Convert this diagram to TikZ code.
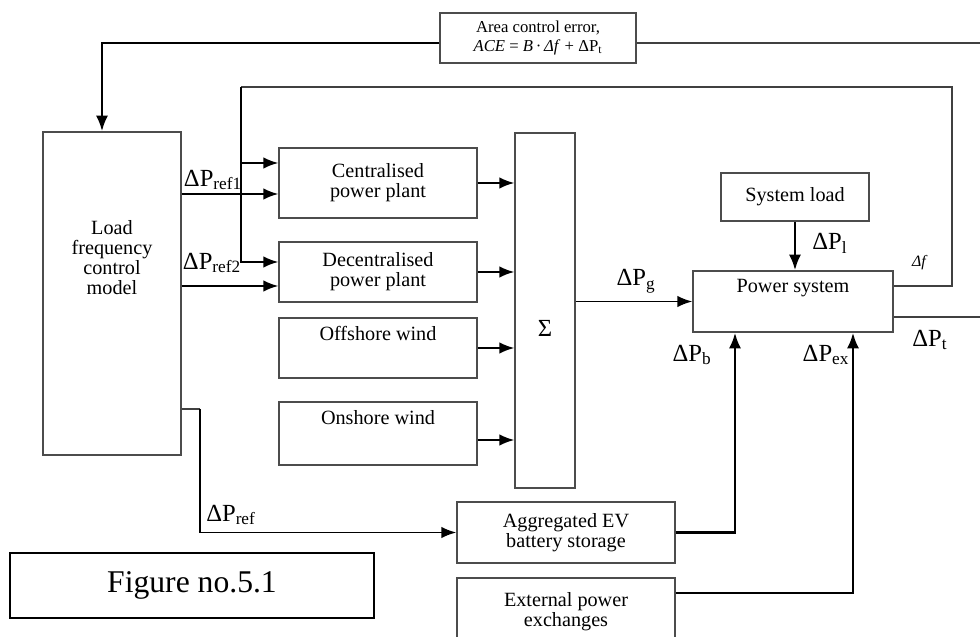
\documentclass[tikz,border=0pt]{standalone}
\usepackage{fontspec}
\setmainfont{Liberation Serif}
\usetikzlibrary{positioning,arrows.meta}

\begin{document}
\begin{tikzpicture}[
  box/.style={rectangle, draw=black!70, line width=0.7pt, align=center,
    inner sep=0pt, font=\fontsize{11.5}{11.5}\selectfont},
  plant/.style={box, minimum width=3.96cm, minimum height=1.2cm},
  arr/.style={-{Latex[length=8.5pt,width=6.5pt]}, line width=1.1pt},
  arrthick/.style={-{Latex[length=9pt,width=7pt]}, line width=1.6pt},
  wire/.style={draw=black!75, line width=0.7pt},
  lbl/.style={font=\fontsize{14}{16}\selectfont, inner sep=1pt}
]

\clip (0,0) rectangle (19.6,-12.74);

% Controller and area control error
\node[box, minimum width=2.76cm, minimum height=6.46cm] (lfc) at (2.24,-5.87) {};
\node[box, draw=none] (lfctxt) at (2.24,-5.15) {Load\\frequency\\control\\model};
\node[box, minimum width=3.92cm, minimum height=1.0cm,
  font=\fontsize{9.5}{11}\selectfont] (ace) at (10.76,-0.76)
  {Area control error,\\ \textit{ACE} = \textit{B}\,·\,\textit{Δf} + ΔP\textsubscript{t}};

% Generation units and summation
\node[plant, minimum height=1.4cm] (cen) at (7.56,-3.66) {Centralised\\power plant};
\node[plant] (dec) at (7.56,-5.44) {Decentralised\\power plant};
\node[plant, text depth=0.6cm] (off) at (7.56,-6.96) {Offshore wind};
\node[plant, minimum height=1.26cm, text depth=0.66cm] (on) at (7.56,-8.67) {Onshore wind};
\node[box, minimum width=1.2cm, minimum height=7.1cm, text height=1.03cm,
  font=\fontsize{14}{16}\selectfont] (sum) at (10.9,-6.21) {Σ};

% Power system side
\node[box, minimum width=4.0cm, minimum height=1.22cm, text depth=0.62cm] (pow) at (15.86,-6.03) {Power system};
\node[box, minimum width=2.96cm, minimum height=0.96cm] (load) at (15.9,-3.94) {System load};
\node[box, minimum width=4.36cm, minimum height=1.22cm] (ev) at (11.32,-10.65) {Aggregated EV\\battery storage};
\node[box, minimum width=4.36cm, minimum height=1.34cm] (ext) at (11.32,-12.23) {External power\\exchanges};

\node[draw=black, line width=1pt, minimum width=7.28cm, minimum height=1.3cm,
  font=\fontsize{18}{20}\selectfont] (fig) at (3.84,-11.71) {Figure no.5.1};

% ACE feedback
\coordinate (aceout) at (19.6,-0.86);
\draw[arrthick] ([yshift=-0.1cm]ace.west) -| ([xshift=-0.2cm]lfc.north);
\draw[wire, line width=1pt] ([yshift=-0.1cm]ace.east) -- (aceout);

% frequency deviation loop
\coordinate (fbr) at (19.04,-1.74);
\coordinate (fbl) at (4.82,-1.74);
\coordinate (fbc) at (4.82,-3.26);
\draw[wire] ([yshift=0.31cm]pow.east) -| (fbr) -- (fbl);
\draw[arr] (fbl) |- ([yshift=0.2cm]dec.west);
\draw[arr] (fbc) -- ([yshift=0.4cm]cen.west);

% reference signals
\coordinate (ref1) at ([yshift=-0.22cm]cen.west);
\coordinate (ref2) at ([yshift=-0.28cm]dec.west);
\coordinate (refd) at (4.0,-8.18);
\draw[arr] (lfc.east |- ref1) -- (ref1);
\draw[arr] (lfc.east |- ref2) -- (ref2);
\draw[wire] (lfc.east |- refd) -- (refd);
\draw[arr] (refd) |- (ev.west);

% plants into the sum
\coordinate (onout) at ([yshift=-0.13cm]on.east);
\draw[arr] (cen.east) -- (cen.east -| sum.west);
\draw[arr] (dec.east) -- (dec.east -| sum.west);
\draw[arr] (off.east) -- (off.east -| sum.west);
\draw[arr] (onout) -- (onout -| sum.west);

% power system inputs and outputs
\coordinate (ptout) at (19.6,-6.34);
\coordinate (pb) at ([xshift=-1.16cm]pow.south);
\coordinate (pex) at ([xshift=1.2cm]pow.south);
\draw[arr] (pow.west -| sum.east) -- (pow.west);
\draw[arrthick] (load.south) -- (load.south |- pow.north);
\draw[wire] ([yshift=-0.31cm]pow.east) -- (ptout);
\draw[arrthick] (ev.east) -| (pb);
\draw[arrthick] ([yshift=0.37cm]ext.east) -| (pex);

% signal labels
\node[lbl] (lref1) at (4.26,-3.6) {ΔP\textsubscript{ref1}};
\node[lbl] (lref2) at (4.24,-5.26) {ΔP\textsubscript{ref2}};
\node[lbl] (lpg) at (12.72,-5.62) {ΔP\textsubscript{g}};
\node[lbl] (lpl) at (16.6,-4.86) {ΔP\textsubscript{l}};
\node[lbl, font=\fontsize{9}{10}\selectfont\itshape] (ldf) at (18.38,-5.26) {Δf};
\node[lbl] (lpt) at (18.6,-6.8) {ΔP\textsubscript{t}};
\node[lbl] (lpb) at (13.84,-7.1) {ΔP\textsubscript{b}};
\node[lbl] (lpex) at (16.52,-7.1) {ΔP\textsubscript{ex}};
\node[lbl] (lpref) at (4.62,-10.3) {ΔP\textsubscript{ref}};

\end{tikzpicture}
\end{document}
